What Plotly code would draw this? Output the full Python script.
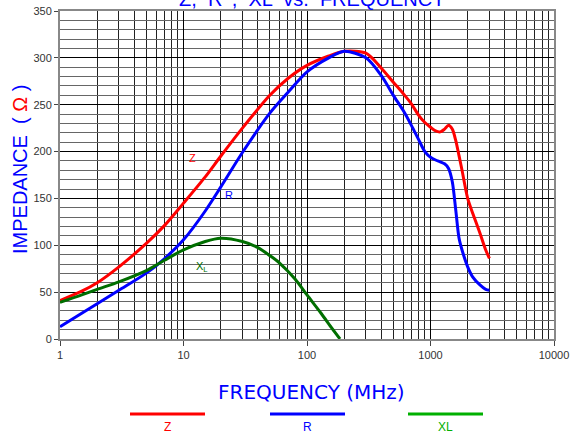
import plotly.graph_objects as go
import math

freq = [1, 1.5, 2, 3, 5, 7, 10, 15, 20, 30, 50, 70, 100, 150, 200, 300, 400, 500, 600, 700,
        800, 900, 1000, 1100, 1200, 1300, 1400, 1500, 1600, 1700, 1800, 2000, 2200, 2500, 2800, 3000]
z_vals = [41, 51, 60, 77, 102, 121, 145, 173, 195, 225, 260, 278, 292, 302, 307, 305, 289, 274, 262, 251,
          239, 231, 226, 222, 221, 224, 228, 224, 212, 196, 180, 150, 134, 114, 95, 86]
r_vals = [13, 27.4, 37.7, 52, 70.3, 85.6, 105.8, 136.6, 162, 199, 241, 263, 285, 300, 307, 300, 281, 260, 244, 228,
          213, 200, 194, 191, 189, 187, 182, 168, 138, 108, 95, 77, 66, 58, 53, 52]
xl_freq = [1, 1.5, 2, 3, 5, 7, 10, 15, 20, 30, 40, 50, 60, 80, 100, 130, 160, 185]
xl_vals = [39, 47, 53, 61, 73, 84, 95, 104, 107.5, 104, 97.5, 89, 81, 64, 47, 27.5, 11, 0]

x_ticks = [1, 10, 100, 1000, 10000]
y_ticks = [0, 50, 100, 150, 200, 250, 300, 350]

RED = "#ff0000"
BLUE = "#0000ff"
DGREEN = "#006e00"
LGREEN = "#00b000"

fig = go.Figure()
fig.add_trace(go.Scatter(x=freq, y=z_vals, mode="lines", line=dict(color=RED, width=3, shape="spline", smoothing=0.8), showlegend=False))
fig.add_trace(go.Scatter(x=freq, y=r_vals, mode="lines", line=dict(color=BLUE, width=3, shape="spline", smoothing=0.8), showlegend=False))
fig.add_trace(go.Scatter(x=xl_freq, y=xl_vals, mode="lines", line=dict(color=DGREEN, width=3, shape="spline", smoothing=0.8), showlegend=False))

fig.update_xaxes(type="log", range=[0, 4], tickvals=x_ticks, ticktext=[str(v) for v in x_ticks],
                 showgrid=True, gridcolor="#000000", gridwidth=1,
                 minor=dict(showgrid=True, dtick="D1", gridcolor="#222222", gridwidth=1),
                 ticks="outside", ticklen=5, tickcolor="#444", automargin=False,
                 tickfont=dict(family="Liberation Sans, Arial", size=11, color="#333"),
                 showline=True, linecolor="#888", linewidth=2, mirror=True, zeroline=False)
fig.update_yaxes(range=[0, 350], tickvals=y_ticks, showgrid=True, gridcolor="#000000", gridwidth=1,
                 minor=dict(showgrid=True, dtick=10, gridcolor="#666666", gridwidth=1),
                 ticks="outside", ticklen=4, tickcolor="#444", automargin=False,
                 tickfont=dict(family="Liberation Sans, Arial", size=11, color="#333"),
                 showline=True, linecolor="#888", linewidth=2, mirror=True, zeroline=False)

W, H = 571, 433
L, R, T, B = 60, 17, 11, 94
pw, ph = W - L - R, H - T - B

def px(x):
    return (x - L) / pw

def py(y):
    return (H - B - y) / ph

def note(text, x, y, size, color, family="Liberation Sans, Arial", angle=0):
    return dict(text=text, x=px(x), y=py(y), xref="paper", yref="paper", xanchor="center", yanchor="middle",
                textangle=angle, showarrow=False, font=dict(family=family, size=size, color=color))

annotations = [
    note("Z,  R' ,  XL  vs.  FREQUENCY", 312, -1, 20, BLUE),
    note("IMPEDANCE  ( <span style='color:#ff0000'>Ω</span> )", 20, 170, 20, BLUE, angle=-90),
    note("FREQUENCY (MHz)", 311, 392, 20, BLUE, family="DejaVu Sans"),
    dict(text="Z", x=math.log10(11.9), y=193, showarrow=False, font=dict(family="Liberation Sans, Arial", size=11, color=RED)),
    dict(text="R", x=math.log10(23.4), y=154, showarrow=False, font=dict(family="Liberation Sans, Arial", size=11, color=BLUE)),
    dict(text="X<sub>L</sub>", x=math.log10(14.1), y=77, showarrow=False, font=dict(family="Liberation Sans, Arial", size=11, color=DGREEN)),
]
shapes = []
for (x0, x1, col, lab) in [(130, 205, RED, "Z"), (270, 345, BLUE, "R"), (408, 483, LGREEN, "XL")]:
    shapes.append(dict(type="line", xref="paper", yref="paper", x0=px(x0), x1=px(x1), y0=py(414), y1=py(414),
                       line=dict(color=col, width=3)))
    annotations.append(note(lab, (x0 + x1) / 2, 427, 12, col))

fig.update_layout(width=W, height=H, margin=dict(l=L, r=R, t=T, b=B, autoexpand=False),
                  plot_bgcolor="white", paper_bgcolor="white",
                  annotations=annotations, shapes=shapes)
fig.write_html("out.html", config={"displayModeBar": False},
               post_script="document.body.style.margin='0';document.body.style.overflow='hidden';")
